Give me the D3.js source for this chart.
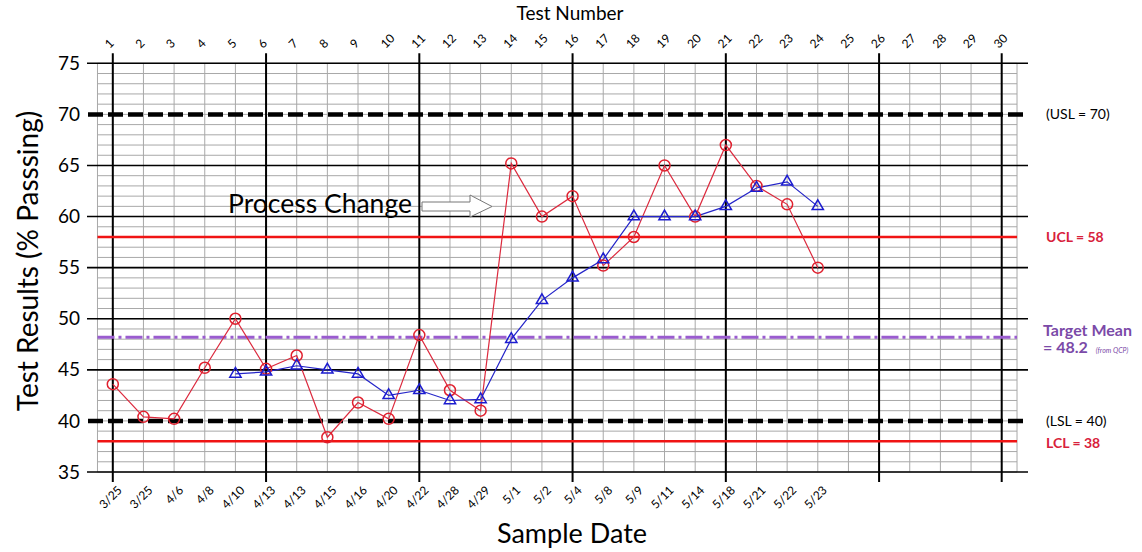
<!DOCTYPE html>
<html>
<head>
<meta charset="utf-8">
<script src="https://cdn.jsdelivr.net/npm/d3@7"></script>
<style>
  body { margin: 0; background: #fff; }
  text { font-family: Lato, "Open Sans", sans-serif; }
</style>
</head>
<body>
<div id="vis"></div>
<script>
// chart data
var testNumbers = d3.range(1, 31)
var sampleDates = ["3/25","3/25","4/6","4/8","4/10","4/13","4/13","4/15","4/16","4/20","4/22","4/28",
                   "4/29","5/1","5/2","5/4","5/8","5/9","5/11","5/14","5/18","5/21","5/22","5/23"]
var resultTests = d3.range(1, 25)
var resultValues = [43.6,40.4,40.2,45.2,50.0,45.1,46.4,38.4,41.8,40.2,48.4,43.0,
                    41.0,65.2,60.0,62.0,55.2,58.0,65.0,60.0,67.0,63.0,61.2,55.0]
var avgTests = d3.range(5, 25)
var avgValues = [44.6,44.8,45.4,45.0,44.6,42.5,43.0,42.0,42.1,48.0,51.8,54.0,
                 55.8,60.0,60.0,60.0,61.0,62.8,63.4,61.0]
var yTicks = [35,40,45,50,55,60,65,70,75]
var majorTests = [1,6,11,16,21,26,30]

var USL = 70, LSL = 40, UCL = 58, LCL = 38, targetMean = 48.2

var width = 1142
var height = 552

var svg = d3.select('#vis').append('svg')
  .attr('width', width)
  .attr('height', height)

var x = d3.scaleLinear().domain([1, 30]).range([112.8, 1001.7])
var y = d3.scaleLinear().domain([35, 75]).range([472, 63.3])

//minor grid
var grid = svg.append('g')
grid.selectAll('line.hminor')
  .data(d3.range(35, 76))
  .enter().append('line')
  .attr('x1', x(0.5)).attr('x2', x(30.5))
  .attr('y1', d => y(d)).attr('y2', d => y(d))
  .attr('stroke', '#a8a8a8').attr('stroke-width', 1)
grid.selectAll('line.vminor')
  .data([0.5].concat(testNumbers, [30.5]))
  .enter().append('line')
  .attr('x1', d => x(d)).attr('x2', d => x(d))
  .attr('y1', y(75)).attr('y2', y(35))
  .attr('stroke', '#a8a8a8').attr('stroke-width', 1)

//major grid
svg.selectAll('line.hmajor')
  .data(yTicks.filter(d => d != USL && d != LSL))
  .enter().append('line')
  .attr('x1', 87).attr('x2', 1028)
  .attr('y1', d => y(d)).attr('y2', d => y(d))
  .attr('stroke', '#000').attr('stroke-width', 1.6)
svg.selectAll('line.vmajor')
  .data(majorTests)
  .enter().append('line')
  .attr('x1', d => x(d)).attr('x2', d => x(d))
  .attr('y1', y(75) - 10).attr('y2', y(35) + 10)
  .attr('stroke', '#000').attr('stroke-width', 2)

//spec limits
svg.selectAll('line.spec')
  .data([USL, LSL])
  .enter().append('line')
  .attr('x1', 88).attr('x2', 1026)
  .attr('y1', d => y(d)).attr('y2', d => y(d))
  .attr('stroke', '#000').attr('stroke-width', 4.5)
  .attr('stroke-dasharray', '15,5')

//control limits
svg.selectAll('line.ctrl')
  .data([UCL, LCL])
  .enter().append('line')
  .attr('x1', x(0.5)).attr('x2', x(30.5))
  .attr('y1', d => y(d)).attr('y2', d => y(d))
  .attr('stroke', '#f01414').attr('stroke-width', 2.5)

svg.append('line')
  .attr('x1', x(0.5)).attr('x2', x(30.5))
  .attr('y1', y(targetMean)).attr('y2', y(targetMean))
  .attr('stroke', '#9a5ccf').attr('stroke-width', 3)
  .attr('stroke-dasharray', '17,4,3,4')

//axis labels
svg.selectAll('text.ytick')
  .data(yTicks)
  .enter().append('text')
  .attr('x', 80).attr('y', d => y(d))
  .attr('dy', '0.35em')
  .attr('text-anchor', 'end')
  .style('font-size', '19px')
  .text(d => d)

svg.selectAll('text.ttop')
  .data(testNumbers)
  .enter().append('text')
  .attr('transform', d => 'translate(' + (x(d) - 3) + ',49) rotate(-45)')
  .style('font-size', '12px')
  .text(d => d)

svg.selectAll('text.date')
  .data(sampleDates)
  .enter().append('text')
  .attr('transform', (d, i) => 'translate(' + (x(i + 1) + 10) + ',491) rotate(-45)')
  .attr('text-anchor', 'end')
  .style('font-size', '12px')
  .text(d => d)

svg.append('text')
  .attr('x', 570).attr('y', 20)
  .attr('text-anchor', 'middle')
  .style('font-size', '19px')
  .text('Test Number')

svg.append('text')
  .attr('x', 572).attr('y', 543)
  .attr('text-anchor', 'middle')
  .style('font-size', '27px')
  .text('Sample Date')

svg.append('text')
  .attr('transform', 'translate(38,261) rotate(-90)')
  .attr('text-anchor', 'middle')
  .style('font-size', '28px')
  .text('Test Results (% Passsing)')

//right side labels
svg.append('text').attr('x', 1046).attr('y', y(USL)).attr('dy', '0.35em')
  .style('font-size', '14px').text('(USL = 70)')
svg.append('text').attr('x', 1046).attr('y', y(LSL)).attr('dy', '0.35em')
  .style('font-size', '14px').text('(LSL = 40)')
svg.append('text').attr('x', 1046).attr('y', y(UCL)).attr('dy', '0.35em')
  .style('font-size', '14px').style('font-weight', 'bold').attr('fill', '#d8213b')
  .text('UCL = 58')
svg.append('text').attr('x', 1046).attr('y', y(LCL) + 2).attr('dy', '0.35em')
  .style('font-size', '14px').style('font-weight', 'bold').attr('fill', '#d8213b')
  .text('LCL = 38')
svg.append('text').attr('x', 1043).attr('y', 336)
  .style('font-size', '16px').style('font-weight', 'bold').attr('fill', '#7b4aa8')
  .text('Target Mean')
var tm = svg.append('text').attr('x', 1043).attr('y', 353)
  .style('font-weight', 'bold').attr('fill', '#7b4aa8')
tm.append('tspan').style('font-size', '16px').text('= 48.2')
tm.append('tspan').attr('dx', 8).style('font-size', '7px').style('font-style', 'italic')
  .style('font-weight', 'normal').text('(from QCP)')

//process change annotation
svg.append('text')
  .attr('x', 228).attr('y', 213)
  .style('font-size', '26.5px')
  .text('Process Change')
svg.append('path')
  .attr('d', 'M422,202 L470,202 L470,195 L492,206.5 L470,217 L470,211 L422,211 Z')
  .attr('fill', '#fff').attr('stroke', '#777').attr('stroke-width', 1)

//data series
var seriesLine = d3.line().x(d => x(d[0])).y(d => y(d[1]))
var redData = d3.zip(resultTests, resultValues)
var blueData = d3.zip(avgTests, avgValues)

svg.append('path').datum(redData)
  .attr('d', seriesLine).attr('fill', 'none')
  .attr('stroke', '#dc2a3e').attr('stroke-width', 1.2)
svg.append('path').datum(blueData)
  .attr('d', seriesLine).attr('fill', 'none')
  .attr('stroke', '#2424c8').attr('stroke-width', 1.2)

svg.selectAll('circle.pt')
  .data(redData)
  .enter().append('circle')
  .attr('cx', d => x(d[0])).attr('cy', d => y(d[1]))
  .attr('r', 5.5)
  .attr('fill', 'none').attr('stroke', '#e0202e').attr('stroke-width', 1.5)

svg.selectAll('path.tri')
  .data(blueData)
  .enter().append('path')
  .attr('d', d3.symbol().type(d3.symbolTriangle).size(55))
  .attr('transform', d => 'translate(' + x(d[0]) + ',' + y(d[1]) + ')')
  .attr('fill', 'none').attr('stroke', '#1c1cd0').attr('stroke-width', 1.5)
</script>
</body>
</html>
